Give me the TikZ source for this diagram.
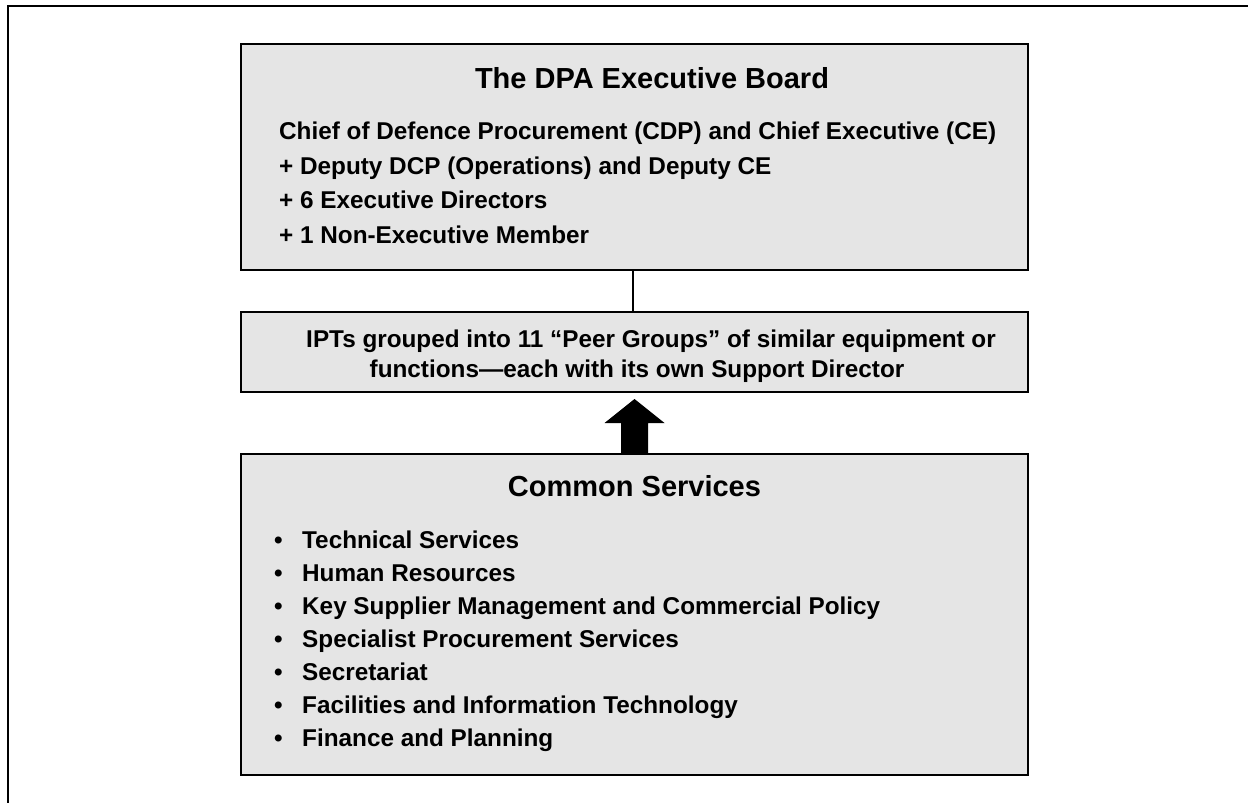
\documentclass[tikz,border=0pt]{standalone}
\usepackage{fontspec}
\setmainfont{Liberation Sans}
\usetikzlibrary{calc}
\begin{document}
\begin{tikzpicture}[x=1pt,y=-1pt,
  box/.style={draw=black,line width=2.8pt,fill=boxgray,inner sep=0pt,outer sep=0pt},
  ttl/.style={font=\bfseries\fontsize{29}{33}\selectfont,inner sep=0pt,anchor=base},
  txt/.style={font=\bfseries\fontsize{24.3}{28}\selectfont,inner sep=0pt,anchor=base west},
  ctxt/.style={font=\bfseries\fontsize{24.3}{28}\selectfont,inner sep=0pt,anchor=base}]
\definecolor{boxgray}{RGB}{229,229,229}
\useasboundingbox (0,0) rectangle (1248,803);
% outer frame
\coordinate (f1) at (8,803);
\coordinate (f2) at (8,6);
\coordinate (f3) at (1248,6);
\draw[line width=2.2pt] (f1) -- (f2) -- (f3);
% boxes
\node[box,minimum width=787pt,minimum height=226pt] (board) at (634.5,157) {};
\node[box,minimum width=787pt,minimum height=80pt] (ipt) at (634.5,352) {};
\node[box,minimum width=787pt,minimum height=321pt] (cs) at (634.5,614.5) {};
% connector
\draw[line width=2pt] ($(board.south)+(-2,0)$) coordinate (cu) -- (cu |- ipt.north);
% block arrow
\fill[black] ($(cs.north)+(-13.5,0)$) coordinate (a1) -- ++(0,-31) -- ++(-16.5,0) -- ($(ipt.south)+(0,7)$) coordinate (tip) -- ($(cs.north)+(30,-31)$) -- ++(-16.5,0) -- ++(0,31) -- cycle;
% board text
\node[ttl] (t1) at (652,88) {The DPA Executive Board};
\node[txt] (b1) at (279,139) {Chief of Defence Procurement (CDP) and Chief Executive (CE)};
\node[txt] (b2) at (279,174) {+ Deputy DCP (Operations) and Deputy CE};
\node[txt] (b3) at (279,208) {+ 6 Executive Directors};
\node[txt] (b4) at (279,243) {+ 1 Non-Executive Member};
% ipt text
\node[ctxt] (i1) at (651,347) {IPTs grouped into 11 “Peer Groups” of similar equipment or};
\node[ctxt] (i2) at (637,377) {functions—each with its own Support Director};
% common services
\node[ttl] (t2) at (634.5,496) {Common Services};
\foreach \t [count=\i from 0] in {Technical Services,Human Resources,Key Supplier Management and Commercial Policy,Specialist Procurement Services,Secretariat,Facilities and Information Technology,Finance and Planning}{
  \node[txt] (c\i) at (274,548+33*\i) {\makebox[28pt][l]{•}\t};
}
\end{tikzpicture}
\end{document}
